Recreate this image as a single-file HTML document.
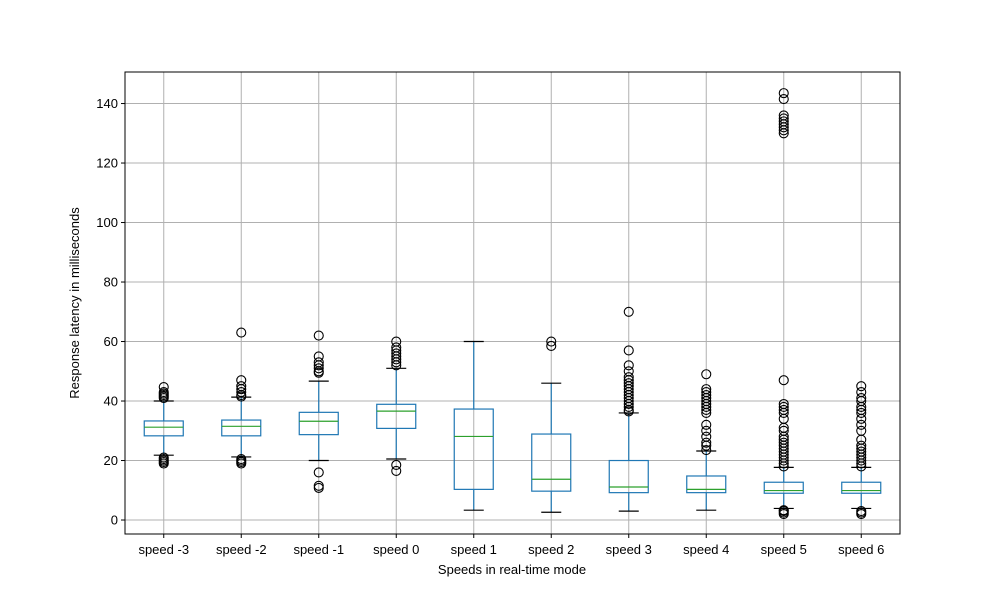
<!DOCTYPE html>
<html><head><meta charset="utf-8"><style>
body{margin:0;background:#fff;}
svg text{font-family:"Liberation Sans","DejaVu Sans",sans-serif;font-size:13px;fill:#000;}
</style></head><body>
<svg id="chart" width="1000" height="600" xmlns="http://www.w3.org/2000/svg">
<rect width="1000" height="600" fill="#fff"/>
<g id="grid"></g>
<g id="boxes"></g>
<rect x="125" y="72" width="775" height="462" fill="none" stroke="#000" stroke-width="1"/>
<g id="axes"></g>
<text x="512" y="574" text-anchor="middle">Speeds in real-time mode</text>
<text transform="translate(79,303) rotate(-90)" text-anchor="middle">Response latency in milliseconds</text>
</svg>
<script>
const categories=["speed -3","speed -2","speed -1","speed 0","speed 1","speed 2","speed 3","speed 4","speed 5","speed 6"];
const q1=[28.3,28.3,28.7,30.8,10.3,9.7,9.2,9.2,9.0,9.0];
const median=[31.2,31.5,33.2,36.6,28.1,13.7,11.1,10.3,9.9,9.9];
const q3=[33.3,33.6,36.2,38.9,37.3,28.9,20.0,14.8,12.7,12.7];
const whiskerLow=[21.8,21.2,20.0,20.5,3.3,2.6,3.0,3.3,3.9,3.9];
const whiskerHigh=[40.0,41.3,46.7,51.0,60.0,46.0,36.0,23.2,17.7,17.7];
const outliers=[
 [19,19.5,20,20.5,21,41,41.5,42,42.5,43,44.7],
 [19,19.5,20,20.5,41.5,42,43,44,45,47,63],
 [10.8,11.5,16,49.5,50,51,52,53,55,62],
 [16.5,18.5,52,53,54,55,56,57,58,60],
 [],
 [58.5,60],
 [36.5,37,38,39,40,41,42,43,44,45,46,47,48,50,52,57,70],
 [23.5,25,26,28,30,32,36,37,38,39,40,41,42,43,44,49],
 [2,2.5,3,3.3,18,19,20,21,22,23,24,25,26,27,28,30,31,34,36,37,38,39,47,130,131,132,133,134,135,136,141.5,143.5],
 [2,2.5,3,18,19,20,21,22,23,24,25,27,30,32,34,36,37,38,40,41,43,45]
];
const yTicks=[0,20,40,60,80,100,120,140];
const NS="http://www.w3.org/2000/svg";
const X0=125,X1=900,Y0=72,Y1=534,YMIN=-4.7,YMAX=150.6;
function yS(v){return Y1-(v-YMIN)/(YMAX-YMIN)*(Y1-Y0);}
function xS(i){return X0+(X1-X0)*(i+0.5)/categories.length;}
function mk(tag,attrs,parent){const e=document.createElementNS(NS,tag);for(const k in attrs)e.setAttribute(k,attrs[k]);parent.appendChild(e);return e;}
const grid=document.getElementById('grid'),boxes=document.getElementById('boxes'),axes=document.getElementById('axes');
yTicks.forEach(t=>{
 const y=yS(t);
 const g=mk('line',{x1:X0,x2:X1,y1:y,y2:y,stroke:'#b0b0b0','stroke-width':1},grid);
 
 
 const tk=mk('line',{x1:X0-4,x2:X0,y1:y,y2:y,stroke:'#000'},axes);
 
 
 const tx=mk('text',{x:X0-7,y:y+4.5,'text-anchor':'end'},axes);
 tx.textContent=t;
 
 
});
categories.forEach((c,i)=>{
 const x=xS(i);
 const g=mk('line',{x1:x,x2:x,y1:Y0,y2:Y1,stroke:'#b0b0b0','stroke-width':1},grid);
 
 
 const tk=mk('line',{x1:x,x2:x,y1:Y1,y2:Y1+4,stroke:'#000'},axes);
 
 
 const tx=mk('text',{x:x,y:Y1+20,'text-anchor':'middle'},axes);
 tx.textContent=c;
 
 
 const grp=mk('g',{},boxes);
 
 
 const hw=19.5,cw=10,blue='#1f77b4';
 mk('line',{x1:x,x2:x,y1:yS(q1[i]),y2:yS(whiskerLow[i]),stroke:blue,'stroke-width':1.2},grp);
 mk('line',{x1:x,x2:x,y1:yS(q3[i]),y2:yS(whiskerHigh[i]),stroke:blue,'stroke-width':1.2},grp);
 mk('line',{x1:x-cw,x2:x+cw,y1:yS(whiskerLow[i]),y2:yS(whiskerLow[i]),stroke:'#000','stroke-width':1.2},grp);
 mk('line',{x1:x-cw,x2:x+cw,y1:yS(whiskerHigh[i]),y2:yS(whiskerHigh[i]),stroke:'#000','stroke-width':1.2},grp);
 mk('rect',{x:x-hw,y:yS(q3[i]),width:2*hw,height:yS(q1[i])-yS(q3[i]),fill:'none',stroke:blue,'stroke-width':1.2},grp);
 mk('line',{x1:x-hw,x2:x+hw,y1:yS(median[i]),y2:yS(median[i]),stroke:'#2ca02c','stroke-width':1.2},grp);
 outliers[i].forEach(v=>{
  const o=mk('circle',{cx:x,cy:yS(v),r:4.5,fill:'none',stroke:'#000','stroke-width':1.1},grp);
  
  
 });
});
</script>
</body></html>
